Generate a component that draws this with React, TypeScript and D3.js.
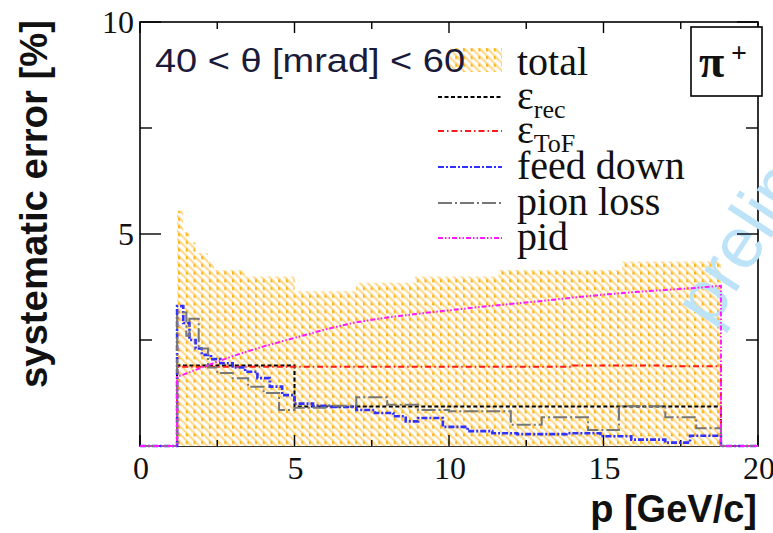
import React from 'react';
import * as d3 from 'd3';

const W = 773;
const H = 533;

// ---- data ----
const xTicksMajor = [0, 5, 10, 15, 20];
const xTicksMinor = [2.5, 7.5, 12.5, 17.5];
const yTicksMajor = [0, 5, 10];
const yTicksMinor = [2.5, 7.5];
const xTickLabels = ['0', '5', '10', '15', '20'];
const yTickLabels = ['5', '10'];
const yTickLabelValues = [5, 10];

const totalEdges = [1.2, 1.4, 1.6, 1.8, 2.2, 2.4, 3.4, 5.0, 7.0, 8.9, 11.6, 15.6, 18.8];
const totalValues = [5.55, 5.05, 4.8, 4.55, 4.35, 4.15, 4.0, 3.65, 3.85, 4.0, 4.15, 4.35];

const recEdges = [1.2, 5.0, 18.8];
const recValues = [1.9, 0.93];

const tofEdges = [1.2, 14.0, 17.0, 18.8];
const tofValues = [1.87, 1.9, 1.88];

const feedEdges = [1.2, 1.4, 1.6, 1.8, 2.0, 2.3, 2.6, 3.0, 3.4, 3.8, 4.2, 4.6, 5.0, 5.6, 6.2, 7.0, 7.6, 8.2, 8.6, 9.0, 9.8, 10.6, 11.4, 12.2, 13.8, 14.9, 15.9, 17.0, 17.8, 18.8];
const feedValues = [3.3, 2.9, 2.5, 2.3, 2.15, 2.05, 1.95, 1.85, 1.75, 1.6, 1.4, 1.2, 1.0, 0.95, 0.92, 0.85, 0.78, 0.7, 0.58, 0.66, 0.45, 0.35, 0.3, 0.28, 0.3, 0.23, 0.15, 0.08, 0.24];

const lossEdges = [1.2, 1.5, 1.6, 1.9, 2.2, 2.5, 3.0, 3.5, 4.0, 4.5, 5.0, 6.0, 7.0, 8.0, 9.0, 10.0, 12.0, 13.0, 14.5, 15.5, 17.0, 18.0, 18.8];
const lossValues = [3.15, 2.6, 3.0, 2.3, 1.85, 1.72, 1.6, 1.4, 1.25, 0.85, 0.9, 0.95, 1.15, 0.97, 0.85, 0.82, 0.5, 0.68, 0.38, 0.94, 0.68, 0.42];

const pidP = [1.2, 2, 3, 4, 5, 6, 7, 8, 9, 10, 11, 12, 13, 14, 15, 16, 17, 18, 18.8];
const pidValues = [1.63, 1.85, 2.12, 2.35, 2.55, 2.75, 2.92, 3.03, 3.12, 3.2, 3.28, 3.35, 3.42, 3.5, 3.57, 3.63, 3.68, 3.73, 3.78];

const legendLabels = ['total', 'ε', 'ε', 'feed down', 'pion loss', 'pid'];
const legendSubs = ['', 'rec', 'ToF', '', '', ''];

// ---- scales ----
const x = d3.scaleLinear().domain([0, 20]).range([140, 758]);
const y = d3.scaleLinear().domain([0, 10]).range([446, 22]);

type Pt = { p: number; v: number };

function stepData(edges: number[], values: number[]): Pt[] {
  const pts: Pt[] = [{ p: 0, v: 0 }];
  values.forEach((v, i) => pts.push({ p: edges[i], v }));
  pts.push({ p: edges[edges.length - 1], v: 0 });
  pts.push({ p: 20, v: 0 });
  return pts;
}

const stepLine = d3
  .line<Pt>()
  .x((d) => x(d.p))
  .y((d) => y(d.v))
  .curve(d3.curveStepAfter);

const linLine = d3
  .line<Pt>()
  .x((d) => x(d.p))
  .y((d) => y(d.v));

const totalArea = d3
  .area<Pt>()
  .x((d) => x(d.p))
  .y0(y(0))
  .y1((d) => y(d.v))
  .curve(d3.curveStepAfter);

const totalData: Pt[] = totalEdges.map((e, i) => ({ p: e, v: totalValues[Math.min(i, totalValues.length - 1)] }));

const pidData: Pt[] = [
  { p: 0, v: 0 },
  { p: pidP[0], v: 0 },
  ...pidP.map((p, i) => ({ p, v: pidValues[i] })),
  { p: pidP[pidP.length - 1], v: 0 },
  { p: 20, v: 0 },
];

const styles = [
  { color: 'black', dash: '4 2.5', w: 2 },
  { color: '#ff1a1a', dash: '6 3 1.5 3', w: 2 },
  { color: '#3030ff', dash: '6 2 2 2', w: 2.6 },
  { color: '#777777', dash: '14 3 2 3', w: 2 },
  { color: '#ff1aff', dash: '5 2 1.5 2 1.5 2', w: 2 },
];

export default function App() {
  const series = [
    stepData(recEdges, recValues),
    stepData(tofEdges, tofValues),
    stepData(feedEdges, feedValues),
    stepData(lossEdges, lossValues),
  ];
  const legendLineY = [97, 131, 167, 203, 238];
  const serif = '"Liberation Serif", "Times New Roman", serif';
  const sans = '"Liberation Sans", Arial, sans-serif';
  return (
    <svg width={W} height={H} style={{ position: 'absolute', left: 0, top: 0, background: 'white' }}>
      <defs>
        <pattern id="hatch" width="7.7" height="7.7" patternUnits="userSpaceOnUse">
          <rect width="7.7" height="7.7" fill="white" />
          <path d="M-1,-1 L8.7,8.7 M-4.85,2.85 L0.85,8.55 M2.85,-4.85 L8.55,0.85" stroke="#ffd98c" strokeWidth="2.2" />
          <path d="M1,2 L1,5 L4,5 Z" fill="#fbb40c" />
          <rect x="1" y="2" width="1.6" height="3" fill="#fbb40c" />
        </pattern>
      </defs>

      {/* frame */}
      <rect x={x(0)} y={y(10)} width={x(20) - x(0)} height={y(0) - y(10)} fill="none" stroke="black" strokeWidth={1.6} />

      {/* total hatch */}
      <path d={totalArea(totalData) || ''} fill="url(#hatch)" />

      {/* watermark */}
      <text
        transform="translate(712,329) rotate(-57)"
        fontFamily={sans}
        fontSize={72}
        fill="#bde3f8"
      >
        preliminary
      </text>

      {/* ticks */}
      {xTicksMajor.map((t) => (
        <g key={'xm' + t}>
          <line x1={x(t)} x2={x(t)} y1={y(0)} y2={y(0) - 11} stroke="black" strokeWidth={1.4} />
          <line x1={x(t)} x2={x(t)} y1={y(10)} y2={y(10) + 11} stroke="black" strokeWidth={1.4} />
        </g>
      ))}
      {xTicksMinor.map((t) => (
        <g key={'xn' + t}>
          <line x1={x(t)} x2={x(t)} y1={y(0)} y2={y(0) - 6} stroke="black" strokeWidth={1.4} />
          <line x1={x(t)} x2={x(t)} y1={y(10)} y2={y(10) + 7} stroke="black" strokeWidth={1.4} />
        </g>
      ))}
      {yTicksMajor.map((t) => (
        <g key={'ym' + t}>
          <line x1={x(0)} x2={x(0) + 21} y1={y(t)} y2={y(t)} stroke="black" strokeWidth={1.4} />
          <line x1={x(20)} x2={x(20) - 21} y1={y(t)} y2={y(t)} stroke="black" strokeWidth={1.4} />
        </g>
      ))}
      {yTicksMinor.map((t) => (
        <g key={'yn' + t}>
          <line x1={x(0)} x2={x(0) + 12} y1={y(t)} y2={y(t)} stroke="black" strokeWidth={1.4} />
          <line x1={x(20)} x2={x(20) - 12} y1={y(t)} y2={y(t)} stroke="black" strokeWidth={1.4} />
        </g>
      ))}

      {/* series lines */}
      {series.map((s, i) => (
        <path
          key={'s' + i}
          d={stepLine(s) || ''}
          fill="none"
          stroke={styles[i].color}
          strokeWidth={styles[i].w}
          strokeDasharray={styles[i].dash}
        />
      ))}
      <path d={linLine(pidData) || ''} fill="none" stroke={styles[4].color} strokeWidth={2} strokeDasharray={styles[4].dash} />

      {/* tick labels */}
      {xTicksMajor.map((t, i) => (
        <text key={'xl' + t} x={x(t) + 1} y={479} textAnchor="middle" fontFamily={serif} fontSize={32} fill="#111">
          {xTickLabels[i]}
        </text>
      ))}
      {yTickLabelValues.map((t, i) => (
        <text key={'yl' + t} x={x(0) - 6} y={y(t) + 11} textAnchor="end" fontFamily={serif} fontSize={32} fill="#111">
          {yTickLabels[i]}
        </text>
      ))}

      {/* axis titles */}
      <text
        transform={`translate(47,${(y(0) + y(10)) / 2 - 30}) rotate(-90)`}
        textAnchor="middle"
        fontFamily={sans}
        fontWeight="bold"
        fontSize={38}
        textLength={368}
        lengthAdjust="spacingAndGlyphs"
        fill="#111"
      >
        systematic error [%]
      </text>
      <text
        x={757}
        y={522}
        textAnchor="end"
        fontFamily={sans}
        fontWeight="bold"
        fontSize={38}
        fill="#111"
      >
        p [GeV/c]
      </text>

      {/* legend */}
      <rect x={450} y={48} width={52} height={24} fill="url(#hatch)" />
      {legendLineY.map((ly, i) => (
        <line
          key={'ll' + i}
          x1={438}
          x2={502}
          y1={ly}
          y2={ly}
          stroke={styles[i].color}
          strokeWidth={2}
          strokeDasharray={styles[i].dash}
        />
      ))}
      {legendLabels.map((lab, i) => {
        const baseY = i === 0 ? 75 : legendLineY[i - 1] + 12;
        return (
          <text key={'lt' + i} x={517} y={baseY} fontFamily={serif} fontSize={40} fill="#111">
            <tspan>{lab}</tspan>
            {legendSubs[i] ? (
              <tspan fontSize={26} dy={9}>
                {legendSubs[i]}
              </tspan>
            ) : null}
          </text>
        );
      })}

      {/* theta range */}
      <text x={155} y={72} fontFamily={sans} fontSize={34} fill="#1a1a3a" textLength={310} lengthAdjust="spacingAndGlyphs">
        40 &lt; θ [mrad] &lt; 60
      </text>

      {/* particle box */}
      <rect x={691} y={27} width={71} height={69} fill="white" stroke="black" strokeWidth={1.6} />
      <text x={699} y={77} fontFamily={serif} fontWeight="bold" fontSize={46} fill="#111">
        π
      </text>
      <text x={731} y={62} fontFamily={serif} fontWeight="bold" fontSize={28} fill="#111">
        +
      </text>
    </svg>
  );
}
